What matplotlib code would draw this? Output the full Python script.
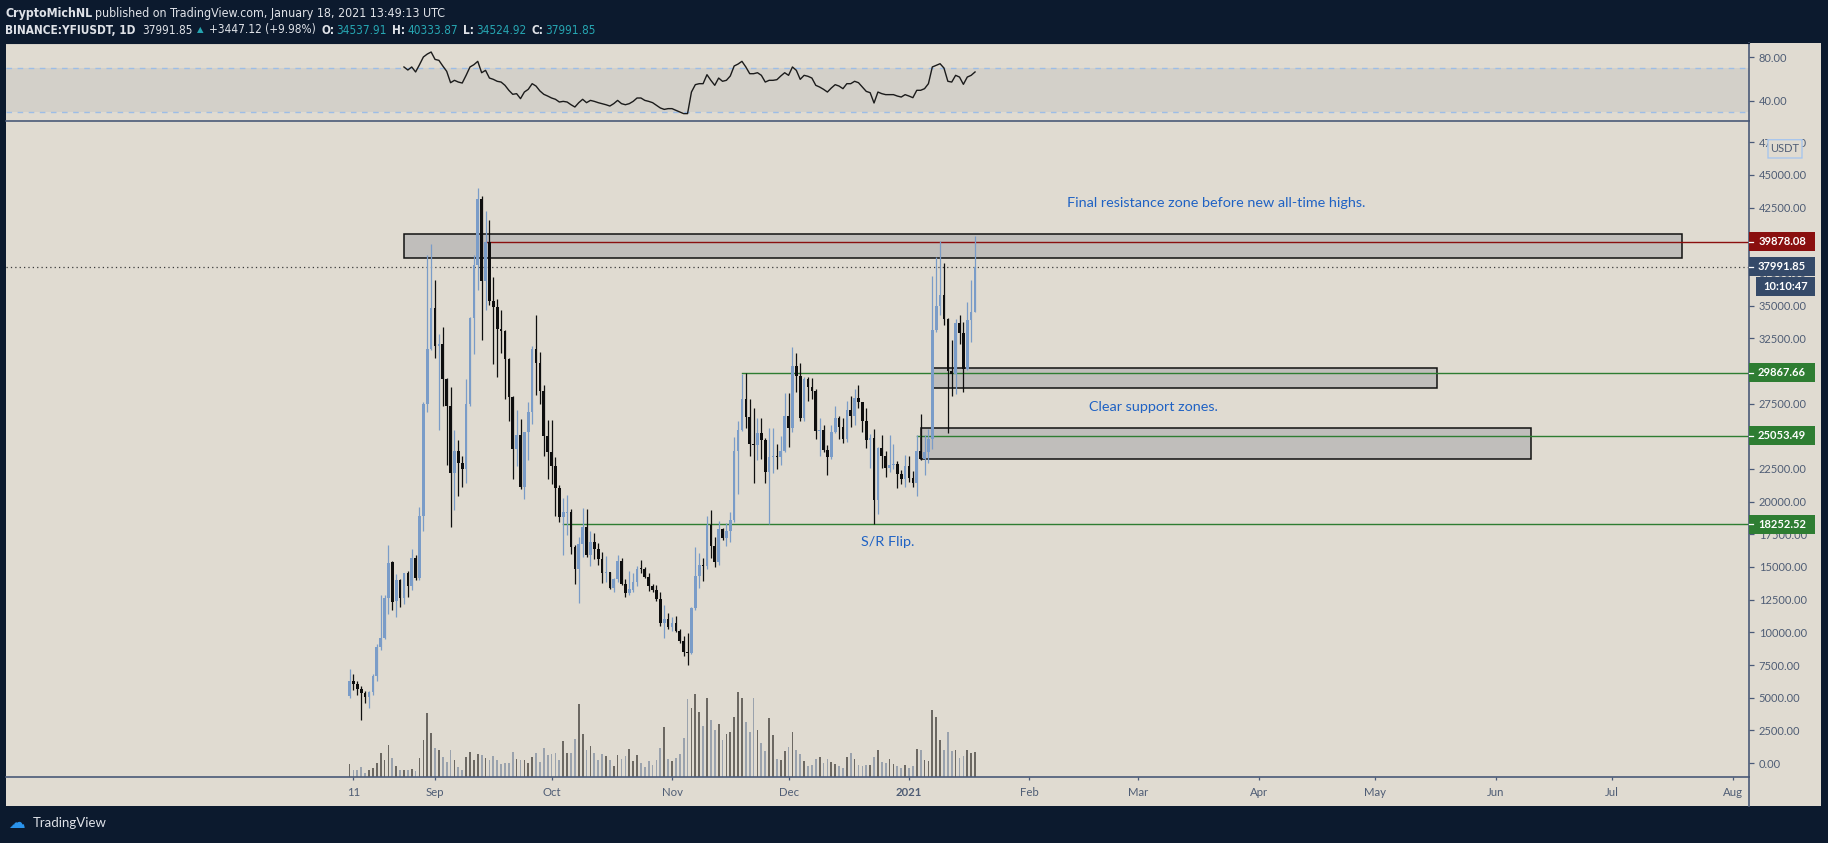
import os
from datetime import datetime, timedelta
import numpy as np
import matplotlib
matplotlib.use("Agg")
import matplotlib.pyplot as plt
import matplotlib.dates as mdates
from matplotlib.patches import Rectangle, FancyBboxPatch
from matplotlib.lines import Line2D
from matplotlib import font_manager

# ---------------------------------------------------------------- data
start = datetime(2020, 8, 10)
dates = [start + timedelta(days=i) for i in range(162)]

opens = [
    5095, 6279, 6016, 5700, 5358, 5042, 5411, 6674, 8910, 9568,
    12593, 15356, 12400, 14040, 12593, 14514, 13514, 15672, 14172, 18908,
    27511, 31721, 34825, 31879, 32036, 29379, 27327, 22196, 23854, 22986,
    22512, 27511, 34089, 38114, 43192, 36877, 39877, 35352, 34878, 33194,
    33063, 30931, 28037, 24038, 25091, 21144, 25301, 26853, 31668, 30616,
    28458, 25038, 23775, 22723, 21065, 18829, 19100, 19200, 16540, 14830,
    16724, 18040, 15935, 16935, 16408, 15619, 14567, 14619, 13383, 14093,
    15487, 13725, 13041, 13250, 13830, 14883, 14830, 14251, 13567, 13251,
    12514, 10752, 11015, 10410, 10752, 10094, 9305, 8500, 8384, 11883,
    14304, 15146, 15040, 18250, 16619, 15409, 17935, 17198, 17724, 18566,
    23907, 25485, 27853, 26459, 24433, 24354, 25222, 24696, 22249, 23380,
    23512, 23380, 23907, 26538, 25617, 30353, 29616, 26406, 29353, 28774,
    28458, 25406, 25500, 23986, 23380, 25354, 26406, 25749, 24775, 26985,
    26538, 27932, 27590, 26143, 24696, 24880, 20092, 24090, 23512, 22591,
    22775, 22850, 22144, 21723, 22723, 21802, 21407, 23907, 23301, 23775,
    24775, 33115, 34957, 35799, 33984, 30037, 29774, 33641, 32931, 30142,
    33905, 34537.91,
]
highs = [
    7200, 6805, 6279, 5884, 5490, 5490, 6805, 9095, 12857, 12857,
    16671, 15487, 14435, 14093, 14567, 14698, 16356, 15882, 19565, 27643,
    38903, 39745, 36930, 32852, 33378, 29432, 28774, 25485, 24696, 23512,
    29353, 34167, 38903, 43981, 43376, 42245, 41534, 37193, 35483, 34694,
    33115, 31010, 28116, 26985, 26354, 25354, 27590, 31879, 34247, 31484,
    28906, 26275, 26275, 23380, 21276, 20302, 20486, 19434, 16671, 17329,
    19513, 19434, 17724, 17592, 16803, 16145, 15830, 14650, 14172, 15882,
    15672, 14093, 14698, 14567, 15040, 15540, 14962, 14567, 13725, 13646,
    13120, 12067, 11462, 11146, 11277, 10226, 9699, 9962, 11936, 16500,
    16093, 15672, 18908, 19355, 17329, 18513, 17987, 18381, 19171, 24959,
    26196, 29748, 29826, 27853, 27195, 26406, 26406, 24880, 25617, 25617,
    24433, 25038, 28301, 28301, 31800, 31352, 30616, 29563, 29511, 29432,
    28643, 26406, 25880, 24301, 25880, 27327, 26538, 26406, 27722, 28116,
    28643, 28906, 27650, 27195, 25143, 25564, 24170, 25091, 23907, 25091,
    24433, 23117, 22460, 23565, 23459, 22328, 25091, 26722, 25091, 25564,
    37246, 38719, 39956, 38246, 34089, 32405, 33984, 34247, 33720, 35299,
    36930, 40333.87,
]
lows = [
    4963, 5621, 5226, 3306, 4621, 4174, 5226, 6279, 8647, 9500,
    11409, 11725, 11146, 11936, 12146, 12725, 13251, 13988, 14040, 17776,
    26880, 31600, 30984, 25485, 27327, 22802, 18040, 19355, 20434, 21092,
    21407, 27327, 31273, 36193, 32405, 34694, 35088, 30563, 29563, 31352,
    27853, 26196, 21723, 22723, 20986, 20223, 23196, 25933, 28195, 27511,
    23512, 21723, 21355, 18908, 18434, 15935, 17460, 16014, 13725, 12251,
    15750, 15803, 15040, 15619, 15172, 13777, 13830, 13304, 13120, 13830,
    13650, 12725, 12857, 13120, 13567, 14514, 14172, 13199, 13120, 12409,
    10489, 9568, 10226, 10094, 10041, 9173, 8200, 7463, 8305, 11672,
    13383, 13909, 14883, 15672, 14962, 15146, 17066, 16619, 16935, 18461,
    20565, 25406, 25670, 23459, 21460, 23196, 23301, 21460, 18302, 22196,
    22512, 22775, 23775, 24170, 25354, 28379, 26143, 26143, 27722, 27853,
    24775, 23512, 23775, 22065, 23301, 25222, 24828, 24512, 24600, 25749,
    25880, 27195, 25354, 24090, 22591, 18302, 19092, 22591, 21881, 22249,
    22512, 21013, 21355, 21092, 21539, 21144, 20407, 23196, 22065, 22986,
    24038, 32984, 34299, 33510, 25222, 28116, 28248, 32062, 28380, 30090,
    32247, 34524.92,
]
closes = [
    6279, 6016, 5700, 5358, 5042, 5411, 6674, 8910, 9568, 12593,
    15304, 12330, 14040, 12593, 14514, 13514, 15672, 14172, 18908, 27511,
    31721, 34825, 31879, 32036, 29379, 27327, 22196, 23854, 22986, 22512,
    27511, 34089, 38114, 43192, 36877, 39877, 35352, 34878, 33194, 33063,
    30931, 28037, 24038, 25091, 21144, 25301, 26853, 31668, 30616, 28458,
    25038, 23775, 22723, 21065, 18829, 19171, 19200, 16540, 14830, 16724,
    18040, 15935, 16935, 16408, 15619, 14567, 14619, 13383, 14093, 15487,
    13725, 13041, 13304, 13830, 14883, 14830, 14251, 13567, 13251, 12514,
    10752, 11015, 10410, 10752, 10094, 9305, 8462, 8420, 11883, 14304,
    15146, 15040, 18250, 16619, 15409, 17935, 17198, 17724, 18566, 23907,
    25485, 27853, 26459, 24433, 24354, 25222, 24696, 22249, 23380, 23512,
    23380, 23907, 26538, 25617, 30353, 29616, 26406, 29353, 28774, 28458,
    25406, 25500, 23986, 23380, 25354, 26406, 25749, 24775, 26985, 26538,
    27932, 27590, 26143, 24696, 24880, 20092, 24090, 23512, 22591, 22775,
    22850, 22144, 21723, 22723, 21802, 21407, 23907, 23301, 23775, 24775,
    33115, 34957, 35799, 33984, 30037, 29774, 33641, 32931, 30142, 33905,
    34537.91, 37991.85,
]
volume = [
    38, 20, 20, 29, 11, 20, 26, 41, 71, 50,
    95, 56, 32, 20, 20, 20, 23, 17, 56, 110,
    191, 131, 86, 80, 59, 44, 80, 50, 29, 20,
    59, 74, 50, 68, 65, 56, 50, 62, 50, 38,
    41, 41, 74, 53, 50, 50, 41, 59, 71, 44,
    86, 65, 68, 71, 50, 107, 71, 71, 113, 218,
    128, 80, 92, 71, 50, 68, 62, 50, 32, 65,
    53, 62, 83, 47, 65, 41, 29, 47, 35, 50,
    86, 149, 53, 47, 56, 68, 116, 233, 206, 250,
    194, 152, 236, 170, 140, 158, 110, 128, 134, 179,
    255, 236, 164, 134, 236, 140, 101, 77, 176, 125,
    53, 50, 77, 89, 134, 80, 68, 47, 32, 35,
    53, 59, 41, 53, 44, 38, 32, 26, 59, 71,
    53, 35, 32, 35, 35, 59, 80, 44, 41, 53,
    38, 32, 26, 35, 26, 32, 83, 80, 50, 47,
    200, 179, 110, 80, 134, 77, 80, 56, 62, 80,
    71, 74,
]
rsi_first = 14  # RSI(14) starts on the 15th candle
rsi = [
    71.1, 68.3, 71.1, 66.5, 73.2, 80.3, 83.0, 84.9, 78.1, 77.2,
    72.0, 67.1, 56.6, 58.8, 57.2, 56.3, 63.4, 71.1, 73.2, 76.3,
    65.8, 68.0, 60.9, 59.7, 57.9, 57.2, 54.2, 49.6, 45.9, 46.5,
    41.9, 48.0, 50.5, 55.7, 53.5, 49.0, 45.9, 44.3, 42.5, 41.3,
    38.8, 39.4, 38.8, 36.3, 34.2, 38.2, 41.3, 38.2, 40.3, 39.4,
    38.2, 37.3, 36.3, 35.1, 37.3, 40.3, 37.3, 36.3, 37.3, 39.4,
    42.5, 42.5, 40.3, 39.4, 38.2, 35.7, 33.3, 32.0, 32.7, 32.7,
    31.1, 29.6, 28.1, 28.1, 48.0, 54.8, 55.7, 55.7, 64.0, 58.8,
    54.2, 60.9, 57.9, 58.8, 62.8, 72.0, 73.8, 76.3, 71.1, 64.9,
    64.9, 65.8, 63.4, 57.2, 58.8, 58.8, 59.4, 62.8, 65.8, 63.4,
    71.1, 68.0, 59.7, 63.4, 62.5, 60.9, 54.2, 52.6, 50.5, 48.0,
    51.7, 54.8, 53.5, 51.1, 55.7, 55.7, 57.9, 56.6, 52.6, 48.6,
    47.4, 37.9, 48.0, 46.5, 45.6, 45.6, 45.6, 44.3, 43.4, 45.6,
    44.3, 42.8, 49.6, 49.6, 51.1, 55.7, 71.1, 72.6, 74.1, 70.1,
    57.9, 57.2, 63.4, 61.8, 55.1, 61.8, 63.4, 66.5,
]

# zones: (start date, end date, low, high)
zones = [
    (datetime(2020, 8, 24), datetime(2021, 7, 19), 38640, 40482),
    (datetime(2021, 1, 7), datetime(2021, 5, 17), 28721, 30247),
    (datetime(2021, 1, 4), datetime(2021, 6, 10), 23301, 25670),
]
# horizontal levels: (price, start date, colour key)
levels = [
    (39878.08, datetime(2020, 9, 14), "red"),
    (29867.66, datetime(2020, 11, 19), "green"),
    (25053.49, datetime(2021, 1, 3), "green"),
    (18252.52, datetime(2020, 10, 4), "green"),
]
last_price = 37991.85

month_ticks = [datetime(2020, 8, 11), datetime(2020, 9, 1), datetime(2020, 10, 1),
               datetime(2020, 11, 1), datetime(2020, 12, 1), datetime(2021, 1, 1),
               datetime(2021, 2, 1), datetime(2021, 3, 1), datetime(2021, 4, 1),
               datetime(2021, 5, 1), datetime(2021, 6, 1), datetime(2021, 7, 1),
               datetime(2021, 8, 1)]
month_labels = ["11", "Sep", "Oct", "Nov", "Dec", "2021", "Feb", "Mar", "Apr",
                "May", "Jun", "Jul", "Aug"]

# ---------------------------------------------------------------- style
NAVY = "#0c1a2e"
BEIGE = "#e0dbd1"
AXIS = "#4a5a78"
LABEL = "#4f5d75"
UP = "#7a9cc8"
DOWN = "#0e0e0e"
VOL_UP = "#6c6862"
VOL_DN = "#9aa2ad"
TEAL = "#26a6b2"
WHITE = "#dfe2e8"
NOTE = "#1f62c4"
RED_LVL = "#8a0f0f"
GREEN_LVL = "#2e7d32"
SLATE = "#354a69"

W, H = 1828, 843
plt.rcParams["font.family"] = ["Lato", "DejaVu Sans"]


def fx(px):
    return px / W


def fy(py):
    return 1 - py / H


def find_font(*names):
    files = {os.path.basename(f.fname): f.fname for f in font_manager.fontManager.ttflist}
    for n in names:
        if n in files:
            return files[n]
    return None


fig = plt.figure(figsize=(W / 100, H / 100), dpi=100, facecolor=NAVY)
fig.add_artist(Rectangle((fx(6), fy(806)), fx(1821) - fx(6), (806 - 43) / H,
                         transform=fig.transFigure, facecolor=BEIGE, edgecolor="none", zorder=0))

pane_l, pane_r = 6, 1749
main_rect = [fx(pane_l), fy(777), fx(pane_r) - fx(pane_l), (777 - 121) / H]
ax_vol = fig.add_axes(main_rect)
ax = fig.add_axes(main_rect, sharex=ax_vol)
ax.patch.set_alpha(0)
ax_rsi = fig.add_axes([fx(pane_l), fy(121), fx(pane_r) - fx(pane_l), (121 - 43) / H], sharex=ax)
ax_rsi.patch.set_alpha(0)
ax_scale = fig.add_axes([fx(1749), fy(777), fx(1821) - fx(1749), (777 - 121) / H])
ax_scale.set_axis_off()

px_per_day = 3.885
jan1 = mdates.date2num(datetime(2021, 1, 1))
xmin = jan1 + (pane_l - 909) / px_per_day
xmax = jan1 + (pane_r - 909) / px_per_day

d = mdates.date2num(dates)
o = np.array(opens, float)
h = np.array(highs, float)
l = np.array(lows, float)
c = np.array(closes, float)
up = c >= o

price_lim = (-1071, 49131)

# volume, drawn behind everything
ax_vol.bar(d, volume, width=0.45, color=[VOL_UP if u else VOL_DN for u in up], linewidth=0)
ax_vol.set_ylim(0, 1968)
ax_vol.set_axis_off()

# zones
for z0, z1, lo, hi in zones:
    a = mdates.date2num(z0)
    b = mdates.date2num(z1)
    ax.add_patch(Rectangle((a, lo), b - a, hi - lo, facecolor="#c0bebb",
                           edgecolor="#111111", lw=1.1, zorder=2))

# horizontal levels
for price, since, kind in levels:
    col = RED_LVL if kind == "red" else GREEN_LVL
    ax.plot([mdates.date2num(since), xmax], [price, price], color=col, lw=1, zorder=2.5)
ax.axhline(last_price, color="#3a3a3a", lw=0.9, ls=(0, (1, 2.5)), zorder=2.5)

# candles
body_lo = np.minimum(o, c)
body_h = np.maximum(np.abs(c - o), 70)
for mask, col in ((up, UP), (~up, DOWN)):
    ax.vlines(d[mask], l[mask], h[mask], color=col, lw=0.9, zorder=3)
    ax.bar(d[mask], body_h[mask], bottom=body_lo[mask], width=0.68, color=col,
           linewidth=0, zorder=3)

# notes
note_kw = dict(color=NOTE, fontsize=10.4, ha="center", va="center", zorder=5)
ax.text(mdates.date2num(datetime(2021, 3, 21)), 42856,
        "Final resistance zone before new all-time highs.", **note_kw)
ax.text(mdates.date2num(datetime(2021, 3, 5)), 27244, "Clear support zones.", **note_kw)
ax.text(mdates.date2num(datetime(2020, 12, 26, 10)), 16913, "S/R Flip.", **note_kw)

ax.set_xlim(xmin, xmax)
ax.set_ylim(*price_lim)
ax.yaxis.tick_right()
ax.set_yticks(np.arange(0, 47501, 2500))
ax.yaxis.set_major_formatter(matplotlib.ticker.FormatStrFormatter("%.2f"))
ax.tick_params(axis="y", direction="out", length=3.5, width=0.9, color=AXIS,
               labelcolor=LABEL, labelsize=8, pad=3.5)
ax.set_xticks(mdates.date2num(month_ticks))
ax.set_xticklabels(month_labels)
ax.tick_params(axis="x", direction="out", length=2.5, width=0.9, color=AXIS,
               labelcolor=LABEL, labelsize=8.2, pad=5)
for lab in ax.get_xticklabels():
    if lab.get_text() == "2021":
        lab.set_fontweight("bold")
for s in ("top", "left"):
    ax.spines[s].set_visible(False)
for s in ("right", "bottom"):
    ax.spines[s].set_color(AXIS)
    ax.spines[s].set_linewidth(1.2)

# RSI pane
ax_rsi.axhspan(30, 70, color="#d3d0c9", lw=0, zorder=0)
for lvl in (70, 30):
    ax_rsi.axhline(lvl, color="#9dbde6", lw=1, ls=(0, (4, 4)), zorder=1)
ax_rsi.plot(d[rsi_first:], rsi, color="#1b1b1b", lw=1, zorder=3)
ax_rsi.set_ylim(21.3, 93.2)
ax_rsi.yaxis.tick_right()
ax_rsi.set_yticks([40, 80])
ax_rsi.yaxis.set_major_formatter(matplotlib.ticker.FormatStrFormatter("%.2f"))
ax_rsi.tick_params(axis="y", direction="out", length=3.5, width=0.9, color=AXIS,
                   labelcolor=LABEL, labelsize=8, pad=3.5)
ax_rsi.tick_params(axis="x", bottom=False, labelbottom=False)
ax_rsi.spines["left"].set_visible(False)
ax_rsi.spines["top"].set_color(NAVY)
for s in ("right", "bottom"):
    ax_rsi.spines[s].set_color(AXIS)
    ax_rsi.spines[s].set_linewidth(1.2)

fig.add_artist(Line2D([fx(1749), fx(1749)], [fy(777), fy(806)], color=AXIS, lw=1.2,
                      transform=fig.transFigure))

# price scale labels
ax_scale.set_xlim(0, 72)
ax_scale.set_ylim(*price_lim)
lab_h = 19 * (price_lim[1] - price_lim[0]) / 656
scale_labels = [(p, RED_LVL if k == "red" else GREEN_LVL) for p, _, k in levels]
scale_labels.append((last_price, SLATE))
for p, col in scale_labels:
    ax_scale.add_patch(Rectangle((0, p - lab_h / 2), 66, lab_h, facecolor=col,
                                 edgecolor="none", clip_on=False, zorder=4))
    ax_scale.plot([0, 4], [p, p], color="white", lw=0.9, clip_on=False, zorder=5)
    ax_scale.text(33, p, "%.2f" % p, color="white", fontsize=8, fontweight="bold",
                  ha="center", va="center", clip_on=False, zorder=5)
timer_y = last_price - 1.04 * lab_h
ax_scale.add_patch(Rectangle((7, timer_y - lab_h / 2), 59, lab_h, facecolor=SLATE,
                             edgecolor="none", clip_on=False, zorder=4))
ax_scale.text(36.5, timer_y, "10:10:47", color="white", fontsize=8, fontweight="bold",
              ha="center", va="center", clip_on=False, zorder=5)
ax_scale.add_patch(FancyBboxPatch((19, 47000 - 700), 34, 1400,
                                  boxstyle="round,pad=0,rounding_size=2",
                                  facecolor=BEIGE, edgecolor="#a9c6ec", lw=1,
                                  clip_on=False, zorder=4))
ax_scale.text(36, 47000, "USDT", color=LABEL, fontsize=8, ha="center", va="center",
              clip_on=False, zorder=5)

# header
reg_file = find_font("LiberationSansNarrow-Regular.ttf", "DejaVuSansCondensed.ttf")
bold_file = find_font("LiberationSansNarrow-Bold.ttf", "DejaVuSansCondensed-Bold.ttf")
if reg_file and bold_file:
    f_reg = font_manager.FontProperties(fname=reg_file, size=9)
    f_bold = font_manager.FontProperties(fname=bold_file, size=9)
else:
    f_reg = font_manager.FontProperties(family="Lato", size=9)
    f_bold = font_manager.FontProperties(family="Lato", weight="bold", size=9)
f_tri = font_manager.FontProperties(family="DejaVu Sans", size=6.5)

renderer = fig.canvas.get_renderer()


def put_segments(x_px, y_px, end_px, segments):
    # segments: (text, colour, font, gap in px before it); font size fitted to width
    texts = []
    for txt, col, props, gap in segments:
        t = fig.text(0, fy(y_px), txt, color=col, fontproperties=props.copy(),
                     ha="left", va="center")
        texts.append((t, gap))
    gaps = sum(g for _, g in texts)
    widths = sum(t.get_window_extent(renderer=renderer).width for t, _ in texts)
    k = (end_px - x_px - gaps) / widths
    x = x_px
    for t, gap in texts:
        fp = t.get_fontproperties()
        fp.set_size(fp.get_size_in_points() * k)
        t.set_fontproperties(fp)
        x += gap
        t.set_x(fx(x))
        x += t.get_window_extent(renderer=renderer).width


put_segments(5, 13, 446, [
    ("CryptoMichNL", WHITE, f_bold, 0),
    ("published on TradingView.com, January 18, 2021 13:49:13 UTC", WHITE, f_reg, 3),
])
put_segments(5, 30, 594, [
    ("BINANCE:YFIUSDT, 1D", WHITE, f_bold, 0),
    ("37991.85", WHITE, f_reg, 7),
    ("\u25b2", TEAL, f_tri, 4.5),
    ("+3447.12 (+9.98%)", WHITE, f_reg, 5.5),
    ("O:", WHITE, f_bold, 5.5), ("34537.91", TEAL, f_reg, 2),
    ("H:", WHITE, f_bold, 5), ("40333.87", TEAL, f_reg, 2),
    ("L:", WHITE, f_bold, 5), ("34524.92", TEAL, f_reg, 2),
    ("C:", WHITE, f_bold, 5), ("37991.85", TEAL, f_reg, 2),
])

# footer
fig.text(fx(8), fy(823), "\u2601", color="#2a93ec", fontsize=12,
         family="DejaVu Sans", ha="left", va="center")
fig.text(fx(33), fy(823), "TradingView", color=WHITE, fontsize=9.5, ha="left", va="center")

fig.savefig("out.png", dpi=100, facecolor=NAVY)
plt.close(fig)
